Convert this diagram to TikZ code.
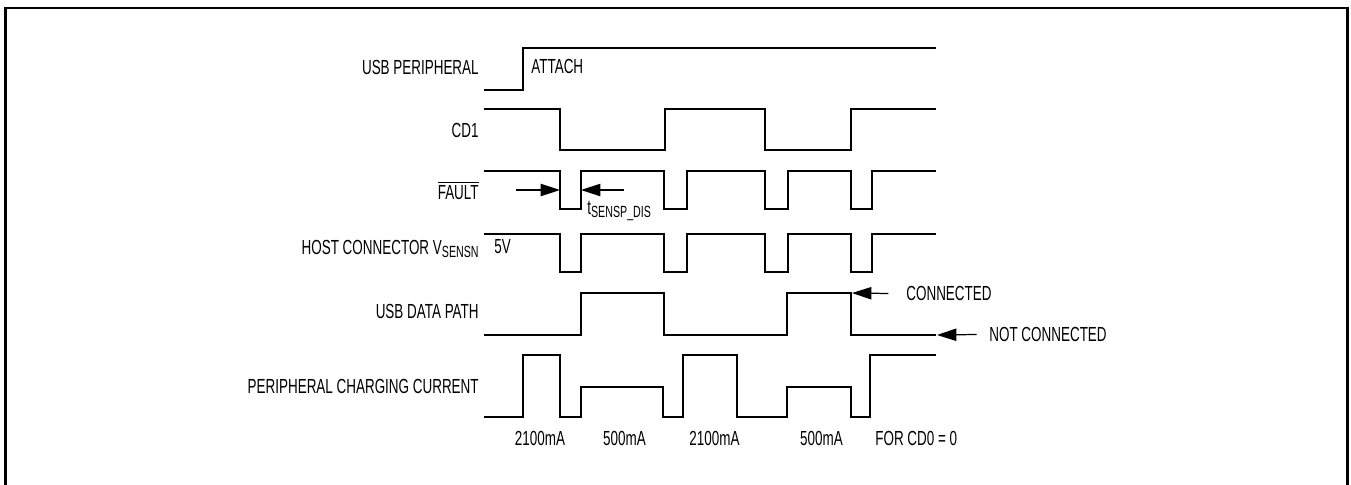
\documentclass[tikz,border=0pt]{standalone}
\usepackage{fontspec}
\setmainfont{Liberation Sans}[FakeStretch=0.66]
\usepackage{tikz}
\usetikzlibrary{arrows.meta}
\newcommand{\sigsub}[1]{\raisebox{-2pt}{\fontsize{9.2}{10}\selectfont #1}}

\begin{document}
\begin{tikzpicture}[x=0.02cm,y=-0.02cm,
    wave/.style={line width=0.7pt,line join=miter},
    lbl/.style={font=\fontsize{11.6}{13}\selectfont,inner sep=0pt},
    tip/.style={line width=0.7pt,-{Triangle[length=11pt,width=7pt]}}]
    \useasboundingbox (0,0) rectangle (1351,484);
    \clip (0,0) rectangle (1351,484);
    \draw[line width=1.2pt] (5.5,8) rectangle (1347.5,500);
    % signal names
    \node[lbl,anchor=base east] (usbp) at (479,74) {USB PERIPHERAL};
    \node[lbl,anchor=base east] (cd1) at (479,137) {CD1};
    \node[lbl,anchor=base east] (flt) at (479,199) {$\overline{\mbox{FAULT}}$};
    \node[lbl,anchor=base east] (host) at (479,254) {HOST CONNECTOR V\sigsub{SENSN}};
    \node[lbl,anchor=base east] (data) at (479,318) {USB DATA PATH};
    \node[lbl,anchor=base east] (chg) at (479,393) {PERIPHERAL CHARGING CURRENT};
    % waveforms
    \draw[wave] (484,90) -| (523,48) -- (936,48);
    \draw[wave] (484,109) -| (560,150) -| (665,109) -| (765,150) -| (851,109) -- (936,109);
    \draw[wave] (484,171) -| (560,209) -| (581,171) -| (664,209) -| (687,171)
        -| (765,209) -| (788,171) -| (851,209) -| (872,171) -- (936,171);
    \draw[wave] (484,234) -| (560,272) -| (581,234) -| (664,272) -| (687,234)
        -| (765,272) -| (788,234) -| (851,272) -| (872,234) -- (936,234);
    \draw[wave] (484,335) -| (581,293) -| (664,335) -| (787,293) -| (851,335) -- (936,335);
    \draw[wave] (484,417) -| (523,355) -| (560,417) -| (581,387) -| (663,417) -| (683,355)
        -| (737,417) -| (787,387) -| (851,417) -| (870,355) -- (936,355);
    % annotations
    \node[lbl,anchor=base west] (att) at (531,73) {ATTACH};
    \node[lbl,anchor=base west] (fivev) at (494,253) {5V};
    \node[lbl,anchor=base west] (tdis) at (587,214) {t\sigsub{SENSP\_DIS}};
    \node[lbl,anchor=base west] (con) at (906,300.5) {CONNECTED};
    \node[lbl,anchor=base west] (ncon) at (989,341.5) {NOT CONNECTED};
    \coordinate (fa) at (516,190);
    \coordinate (fb) at (560,190);
    \coordinate (fc) at (624,190);
    \coordinate (fd) at (581,190);
    \coordinate (cn) at (852,293);
    \coordinate (nc) at (937,335);
    \draw[tip] (fa) -- (fb);
    \draw[tip] (fc) -- (fd);
    \draw[tip] ([xshift=-10]con.west) -- (cn);
    \draw[tip] ([xshift=-7]ncon.west) -- (nc);
    % currents
    \node[lbl,anchor=base] (i1) at (540,445) {2100mA};
    \node[lbl,anchor=base] (i2) at (624.5,445) {500mA};
    \node[lbl,anchor=base] (i3) at (714.5,445) {2100mA};
    \node[lbl,anchor=base] (i4) at (821.5,445) {500mA};
    \node[lbl,anchor=base west] (cd0) at (875,445) {FOR CD0 = 0};
\end{tikzpicture}
\end{document}
